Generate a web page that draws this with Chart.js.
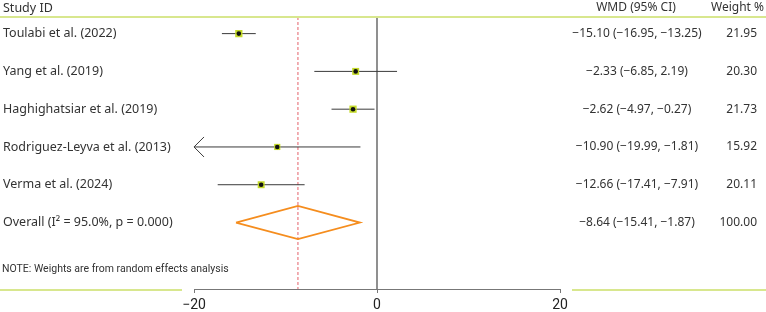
<!DOCTYPE html>
<html>
<head>
<meta charset="utf-8">
<script src="https://cdn.jsdelivr.net/npm/chart.js@4.4.1/dist/chart.umd.min.js"></script>
<style>
  html, body { margin: 0; padding: 0; background: #fff; }
  #wrap { width: 766px; height: 312px; position: relative; }
</style>
</head>
<body>
<div id="wrap"><canvas id="forest"></canvas></div>
<script>
// Study-level estimates (weighted mean difference, 95% CI, random-effects weight)
const studies = ['Toulabi et al. (2022)', 'Yang et al. (2019)', 'Haghighatsiar et al. (2019)', 'Rodriguez-Leyva et al. (2013)', 'Verma et al. (2024)'];
const wmd = [-15.10, -2.33, -2.62, -10.90, -12.66];
const ciLow = [-16.95, -6.85, -4.97, -19.99, -17.41];
const ciHigh = [-13.25, 2.19, -0.27, -1.81, -7.91];
const weights = [21.95, 20.30, 21.73, 15.92, 20.11];

// Pooled estimate
const overallLabel = 'Overall (I\u00b2 = 95.0%, p = 0.000)';
const overallWmd = -8.64;
const overallLow = -15.41;
const overallHigh = -1.87;
const overallWeight = 100.00;

// Axis
const xTicks = [-20, 0, 20];
const xMin = -20, xMax = 20;
const yMin = -0.44, yMax = 6.76;

const noteText = 'NOTE: Weights are from random effects analysis';
const headers = ['Study ID', 'WMD (95% CI)', 'Weight %'];

const GREEN = '#c4da2a';
const RULE_GREEN = '#d8e78e';
const ORANGE = '#f58d1e';
const TEXT = '#333333';
const BODY_FONT = "'Noto Sans', 'Open Sans', sans-serif";
const NARROW_FONT = "'Liberation Sans Narrow', 'Roboto', sans-serif";

const fmt = v => v.toFixed(2).replace(/-/g, '\u2212');
const overallRow = studies.length;

const datasets = [];

// Confidence interval whiskers
studies.forEach((s, i) => {
  datasets.push({
    type: 'line',
    data: [{ x: Math.max(ciLow[i], xMin), y: i }, { x: Math.min(ciHigh[i], xMax), y: i }],
    borderColor: '#3a3a3a',
    borderWidth: 1,
    pointRadius: 0,
    order: 3
  });
});

// Weight squares
datasets.push({
  type: 'scatter',
  data: studies.map((s, i) => ({ x: wmd[i], y: i })),
  backgroundColor: GREEN,
  borderWidth: 0,
  pointStyle: 'rect',
  pointRadius: ctx => (1.55 * Math.sqrt(weights[ctx.dataIndex])) / Math.SQRT2,
  order: 2
});

// Point estimates
datasets.push({
  type: 'scatter',
  data: studies.map((s, i) => ({ x: wmd[i], y: i })),
  backgroundColor: '#111',
  borderWidth: 0,
  pointStyle: 'circle',
  pointRadius: 2.3,
  order: 1
});

// Pooled diamond
datasets.push({
  type: 'line',
  data: [
    { x: overallLow, y: overallRow },
    { x: overallWmd, y: overallRow - 0.44 },
    { x: overallHigh, y: overallRow },
    { x: overallWmd, y: overallRow + 0.44 },
    { x: overallLow, y: overallRow }
  ],
  borderColor: ORANGE,
  borderWidth: 1.8,
  pointRadius: 0,
  fill: false,
  tension: 0,
  order: 1
});

// Line of no effect
datasets.push({
  type: 'line',
  data: [{ x: 0, y: yMin }, { x: 0, y: yMax }],
  borderColor: '#555',
  borderWidth: 1.3,
  pointRadius: 0,
  order: 4
});

// Pooled estimate reference
datasets.push({
  type: 'line',
  data: [{ x: overallWmd, y: yMin }, { x: overallWmd, y: yMax }],
  borderColor: '#e4606a',
  borderWidth: 1,
  borderDash: [3, 2],
  pointRadius: 0,
  order: 4
});

const tablePlugin = {
  id: 'forestTable',
  afterDatasetsDraw(chart) {
    const { ctx, chartArea, scales } = chart;
    const xs = scales.x, ys = scales.y;
    const W = chart.width;
    ctx.save();

    // horizontal rules
    ctx.strokeStyle = RULE_GREEN;
    ctx.lineWidth = 2;
    ctx.beginPath();
    ctx.moveTo(0, chartArea.top);
    ctx.lineTo(W, chartArea.top);
    ctx.moveTo(0, chartArea.bottom + 1);
    ctx.lineTo(chartArea.left - 12, chartArea.bottom + 1);
    ctx.moveTo(chartArea.right + 12, chartArea.bottom + 1);
    ctx.lineTo(W, chartArea.bottom + 1);
    ctx.stroke();

    // arrow where a CI reaches the axis limit
    ctx.strokeStyle = '#3a3a3a';
    ctx.lineWidth = 1;
    studies.forEach((s, i) => {
      if (ciLow[i] <= xMin + 0.05) {
        const tx = xs.getPixelForValue(xMin), ty = ys.getPixelForValue(i);
        ctx.beginPath();
        ctx.moveTo(tx + 10, ty - 10);
        ctx.lineTo(tx, ty);
        ctx.lineTo(tx + 10, ty + 10);
        ctx.stroke();
      }
    });

    ctx.fillStyle = TEXT;
    ctx.textBaseline = 'middle';
    ctx.font = '12.5px ' + BODY_FONT;

    // headers
    const hy = chartArea.top - 9;
    ctx.textAlign = 'left';
    ctx.fillText(headers[0], 3, hy);
    ctx.font = '12px ' + BODY_FONT;
    ctx.textAlign = 'center';
    ctx.fillText(headers[1], 636, hy);
    ctx.textAlign = 'right';
    ctx.fillText(headers[2], 764, hy);

    // study rows
    const labels = studies.concat([overallLabel]);
    const est = wmd.concat([overallWmd]);
    const lo = ciLow.concat([overallLow]);
    const hi = ciHigh.concat([overallHigh]);
    const wt = weights.concat([overallWeight]);
    labels.forEach((lab, i) => {
      const y = ys.getPixelForValue(i);
      ctx.font = '12.5px ' + BODY_FONT;
      ctx.textAlign = 'left';
      ctx.fillText(lab, 3, y);
      ctx.font = '12px ' + BODY_FONT;
      ctx.textAlign = 'center';
      ctx.fillText(fmt(est[i]) + ' (' + fmt(lo[i]) + ', ' + fmt(hi[i]) + ')', 637, y);
      ctx.textAlign = 'right';
      ctx.fillText(wt[i].toFixed(2), 757, y);
    });

    // footnote
    ctx.font = '10.5px ' + NARROW_FONT;
    ctx.textAlign = 'left';
    ctx.fillText(noteText, 2, ys.getPixelForValue(6.25));
    ctx.restore();
  }
};

new Chart(document.getElementById('forest'), {
  data: { datasets },
  options: {
    responsive: true,
    maintainAspectRatio: false,
    animation: false,
    layout: { padding: { left: 194, right: 206, top: 17, bottom: -5 } },
    plugins: { legend: { display: false }, tooltip: { enabled: false } },
    scales: {
      x: {
        type: 'linear',
        min: xMin,
        max: xMax,
        afterBuildTicks: axis => { axis.ticks = xTicks.map(v => ({ value: v })); },
        grid: { drawOnChartArea: false, drawTicks: true, tickLength: 4, color: '#777' },
        border: { display: true, color: '#777', width: 1 },
        ticks: {
          padding: 5,
          color: '#222',
          font: { family: NARROW_FONT, size: 14, lineHeight: 1.0 },
          maxRotation: 0,
          callback: v => String(v).replace('-', '\u2212')
        }
      },
      y: {
        type: 'linear',
        reverse: true,
        min: yMin,
        max: yMax,
        display: false
      }
    }
  },
  plugins: [tablePlugin]
});
</script>
</body>
</html>
